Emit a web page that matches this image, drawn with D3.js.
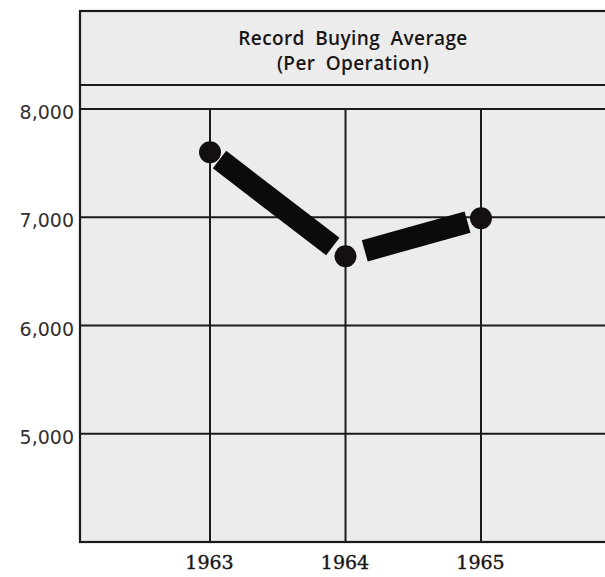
<!DOCTYPE html>
<html>
<head>
<meta charset="utf-8">
<script src="https://cdn.jsdelivr.net/npm/d3@7"></script>
<style>
  html, body { margin: 0; padding: 0; background: #fff; }
  svg { display: block; }
</style>
</head>
<body>
<div id="chart"></div>
<script>
// Record buying average per operation, 1963-1965

var years = [1963, 1964, 1965];
var buyingAverage = [7600, 6640, 6990];
var yTicks = [8000, 7000, 6000, 5000];
var titleLines = ['Record Buying Average', '(Per Operation)'];

var width = 605;
var height = 577;
var frame = { left: 80, right: 640, top: 11, titleBottom: 85 };

var xScale = d3.scaleLinear()
    .domain([1963, 1965])
    .range([210, 481]);

var yScale = d3.scaleLinear()
    .domain([4000, 8000])
    .range([542, 109]);

var svg = d3.select('#chart').append('svg')
    .attr('width', width)
    .attr('height', height);

// grey panel
svg.append('rect')
    .attr('x', frame.left)
    .attr('y', frame.top)
    .attr('width', frame.right - frame.left)
    .attr('height', yScale(4000) - frame.top)
    .attr('fill', '#ececec')
    .attr('stroke', '#1e1a1a')
    .attr('stroke-width', 2.2);

// title divider
svg.append('line')
    .attr('x1', frame.left).attr('x2', frame.right)
    .attr('y1', frame.titleBottom).attr('y2', frame.titleBottom)
    .attr('stroke', '#1e1a1a')
    .attr('stroke-width', 2);

// title
svg.append('g')
    .selectAll('text')
    .data(titleLines)
    .join('text')
    .attr('x', 353)
    .attr('y', function(d, i) { return 45 + i * 25; })
    .attr('text-anchor', 'middle')
    .attr('font-family', '"Open Sans", "Liberation Sans", sans-serif')
    .attr('font-size', 19)
    .attr('font-weight', 600)
    .attr('word-spacing', 5)
    .attr('letter-spacing', 0.4)
    .attr('fill', '#1a1616')
    .text(function(d) { return d; });

// horizontal grid
svg.append('g')
    .selectAll('line')
    .data(yTicks)
    .join('line')
    .attr('x1', frame.left).attr('x2', frame.right)
    .attr('y1', function(d) { return yScale(d); })
    .attr('y2', function(d) { return yScale(d); })
    .attr('stroke', '#1e1a1a')
    .attr('stroke-width', 2);

// vertical grid
var gridYears = years.concat([1966]);
svg.append('g')
    .selectAll('line')
    .data(gridYears)
    .join('line')
    .attr('x1', function(d) { return xScale(d); })
    .attr('x2', function(d) { return xScale(d); })
    .attr('y1', yScale(8000))
    .attr('y2', yScale(4000))
    .attr('stroke', '#1e1a1a')
    .attr('stroke-width', 2);

// y axis labels
var yAxis = d3.axisLeft(yScale)
    .tickValues(yTicks)
    .tickSize(0)
    .tickPadding(6)
    .tickFormat(d3.format(','));

svg.append('g')
    .attr('transform', 'translate(' + frame.left + ',0)')
    .call(yAxis)
    .call(function(g) { g.select('.domain').remove(); })
    .selectAll('text')
    .attr('dy', '0.5em')
    .attr('font-family', '"DejaVu Sans", sans-serif')
    .attr('font-size', 19)
    .attr('fill', '#333030');

// x axis labels
var xAxis = d3.axisBottom(xScale)
    .tickValues(years)
    .tickSize(0)
    .tickPadding(14)
    .tickFormat(d3.format('d'));

svg.append('g')
    .attr('transform', 'translate(-1,' + yScale(4000) + ')')
    .call(xAxis)
    .call(function(g) { g.select('.domain').remove(); })
    .selectAll('text')
    .attr('font-family', '"DejaVu Serif", serif')
    .attr('font-size', 19)
    .attr('fill', '#1a1616')
    .attr('stroke', '#1a1616')
    .attr('stroke-width', 0.4);

// thick segments, cut short near each dot
var points = years.map(function(y, i) {
    return { x: xScale(y), y: yScale(buyingAverage[i]) };
});
var gaps = [[12, 16], [20, 14]];
var segs = d3.pairs(points).map(function(p, i) {
    var a = p[0], b = p[1];
    var dx = b.x - a.x, dy = b.y - a.y;
    var len = Math.sqrt(dx * dx + dy * dy);
    var ux = dx / len, uy = dy / len;
    return {
        x1: a.x + ux * gaps[i][0], y1: a.y + uy * gaps[i][0],
        x2: b.x - ux * gaps[i][1], y2: b.y - uy * gaps[i][1]
    };
});

svg.append('g')
    .selectAll('line')
    .data(segs)
    .join('line')
    .attr('x1', function(d) { return d.x1; })
    .attr('y1', function(d) { return d.y1; })
    .attr('x2', function(d) { return d.x2; })
    .attr('y2', function(d) { return d.y2; })
    .attr('stroke', '#0c0a0a')
    .attr('stroke-width', 22)
    .attr('stroke-linecap', 'butt');

// dots
svg.append('g')
    .selectAll('circle')
    .data(points)
    .join('circle')
    .attr('cx', function(d) { return d.x; })
    .attr('cy', function(d) { return d.y; })
    .attr('r', 11)
    .attr('fill', '#141010');
</script>
</body>
</html>
